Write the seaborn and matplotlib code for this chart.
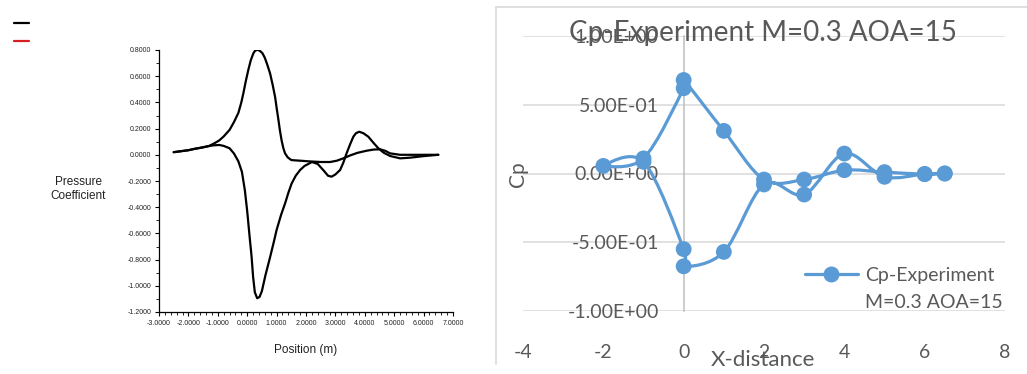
import numpy as np
import pandas as pd
import matplotlib
matplotlib.use("Agg")
import matplotlib.pyplot as plt
import seaborn as sns
from matplotlib.path import Path
from matplotlib.patches import PathPatch
from matplotlib.lines import Line2D
from matplotlib.ticker import MultipleLocator, FuncFormatter, FixedLocator

# ---------------- data: left panel (CFD pressure coefficient) ----------------
cfd_upper_x = [-2.5, -2.0, -1.8, -1.55, -1.3, -1.1, -0.95, -0.8, -0.6, -0.45, -0.3, -0.2,
               -0.13, -0.05, 0.04, 0.12, 0.21, 0.26, 0.32, 0.38, 0.45, 0.52, 0.6, 0.68,
               0.78, 0.87, 0.95, 1.0, 1.06, 1.11, 1.17, 1.23, 1.29, 1.38, 1.5, 1.6,
               1.8, 2.1, 2.5, 2.82, 3.05, 3.27, 3.5, 3.75, 4.06, 4.3, 4.52, 4.7, 4.86,
               5.2, 5.8, 6.5]
cfd_upper_y = [0.02, 0.035, 0.045, 0.055, 0.067, 0.09, 0.11, 0.14, 0.19, 0.25, 0.32, 0.40,
               0.47, 0.56, 0.65, 0.72, 0.775, 0.792, 0.80, 0.80, 0.79, 0.775, 0.74, 0.69,
               0.62, 0.53, 0.44, 0.36, 0.27, 0.19, 0.11, 0.05, 0.01, -0.02, -0.04, -0.042,
               -0.045, -0.05, -0.055, -0.055, -0.045, -0.027, -0.005, 0.015, 0.031, 0.04,
               0.042, 0.03, 0.011, 0.0, 0.0, 0.0]
cfd_lower_x = [-2.5, -2.0, -1.8, -1.55, -1.3, -1.15, -0.95, -0.8, -0.6, -0.45, -0.3, -0.18,
               -0.08, 0.0, 0.08, 0.15, 0.2, 0.26, 0.34, 0.42, 0.5, 0.55, 0.62, 0.7, 0.78,
               0.9, 1.0, 1.15, 1.29, 1.4, 1.51, 1.65, 1.8, 1.95, 2.08, 2.2, 2.4, 2.6,
               2.75, 2.87, 3.0, 3.16, 3.27, 3.38, 3.5, 3.61, 3.7, 3.81, 3.95, 4.12, 4.3,
               4.46, 4.65, 4.86, 5.2, 5.54, 6.0, 6.5]
cfd_lower_y = [0.02, 0.035, 0.045, 0.055, 0.067, 0.072, 0.075, 0.068, 0.05, 0.01, -0.05,
               -0.13, -0.27, -0.43, -0.62, -0.78, -0.93, -1.05, -1.095, -1.085, -1.04,
               -0.99, -0.92, -0.85, -0.78, -0.67, -0.574, -0.46, -0.37, -0.29, -0.22,
               -0.16, -0.116, -0.085, -0.07, -0.055, -0.07, -0.12, -0.16, -0.167, -0.15,
               -0.116, -0.06, 0.011, 0.08, 0.138, 0.165, 0.176, 0.165, 0.138, 0.09, 0.05,
               0.015, -0.009, -0.027, -0.022, -0.01, 0.0]
left_xlim = (-3, 7)
left_ylim = (-1.2, 0.8)

# ---------------- data: right panel (experiment) ----------------
exp_x = [6.5, 6, 5, 4, 3, 2, 1, 0, 0, -1, -2, -1, 0, 0, 1, 2, 3, 4, 5, 6, 6.5]
exp_cp = [0.0, -0.005, 0.01, 0.024, -0.044, -0.044, 0.31, 0.68, 0.62, 0.11, 0.055,
          0.085, -0.55, -0.675, -0.57, -0.08, -0.153, 0.145, -0.024, -0.003, 0.0]
right_xticks = [-4, -2, 0, 2, 4, 6, 8]
right_yticks = [-1.0, -0.5, 0.0, 0.5, 1.0]

title_text = "Cp-Experiment M=0.3 AOA=15"
legend_line1 = "Cp-Experiment"
legend_line2 = "M=0.3 AOA=15"

sns.set_theme(style="white")
plt.rcParams['font.family'] = ['Lato', 'DejaVu Sans']
narrow = ['Liberation Sans', 'DejaVu Sans']

W, H = 1027, 374
fig = plt.figure(figsize=(W / 100, H / 100), dpi=100)
fig.patch.set_facecolor('white')


def px_rect(l, t, r, b):
    return [l / W, 1 - b / H, (r - l) / W, (b - t) / H]


# ---------------- left panel ----------------
axL = fig.add_axes(px_rect(159, 50, 453, 312))
axL.set_facecolor('white')
dfA = pd.DataFrame({'x': cfd_upper_x, 'y': cfd_upper_y})
dfB = pd.DataFrame({'x': cfd_lower_x, 'y': cfd_lower_y})
sns.lineplot(data=dfA, x='x', y='y', sort=False, estimator=None, color='black',
             lw=1.6, ax=axL)
sns.lineplot(data=dfB, x='x', y='y', sort=False, estimator=None, color='black',
             lw=1.6, ax=axL)
for ln in axL.get_lines():
    ln.set_solid_joinstyle('round')
    ln.set_solid_capstyle('round')
axL.set_xlim(*left_xlim)
axL.set_ylim(*left_ylim)
for s in ['top', 'right']:
    axL.spines[s].set_visible(False)
for s in ['left', 'bottom']:
    axL.spines[s].set_color('black')
    axL.spines[s].set_linewidth(0.9)
axL.xaxis.set_major_locator(MultipleLocator(1.0))
axL.xaxis.set_minor_locator(MultipleLocator(0.2))
axL.yaxis.set_major_locator(MultipleLocator(0.2))
axL.yaxis.set_minor_locator(MultipleLocator(0.1))
fmt4 = FuncFormatter(lambda v, p: f"{round(v, 4) + 0.0:.4f}")
axL.xaxis.set_major_formatter(fmt4)
axL.yaxis.set_major_formatter(fmt4)
axL.tick_params(axis='both', which='major', direction='out', length=3, width=0.8,
                color='black', labelsize=5, labelcolor='#222222', pad=2.5,
                bottom=True, left=True)
axL.tick_params(axis='both', which='minor', direction='out', length=2, width=0.6,
                color='black', bottom=True, left=True)
for lab in axL.get_xticklabels() + axL.get_yticklabels():
    lab.set_family(narrow)
axL.set_xlabel('')
axL.set_ylabel('')
fig.text(78 / W, 1 - 189 / H, "Pressure\nCoefficient", ha='center', va='center',
         fontsize=8.5, color='#222222', family=narrow, linespacing=1.15)
fig.text(306 / W, 1 - 350 / H, "Position (m)", ha='center', va='center',
         fontsize=8.5, color='#222222', family=narrow)
# legend swatches (no labels)
fig.add_artist(Line2D([14 / W, 29 / W], [1 - 23 / H, 1 - 23 / H], color='black',
                      lw=1.6, transform=fig.transFigure))
fig.add_artist(Line2D([14 / W, 29 / W], [1 - 40.5 / H, 1 - 40.5 / H], color='#d42020',
                      lw=1.6, transform=fig.transFigure))

# ---------------- right panel ----------------
blue = '#5B9BD5'
grey_txt = '#595959'
# chart area border
fig.add_artist(Line2D([496 / W, 496 / W], [1 - 7 / H, 1 - 364 / H], color='#d9d9d9',
                      lw=1.2, transform=fig.transFigure))
fig.add_artist(Line2D([496 / W, 1.0], [1 - 7 / H, 1 - 7 / H], color='#d9d9d9',
                      lw=1.2, transform=fig.transFigure))

axR = fig.add_axes(px_rect(523, 36, 1005, 311))
axR.set_facecolor('none')
axR.set_xlim(-4, 8)
axR.set_ylim(-1, 1)
axR.yaxis.set_major_locator(FixedLocator(right_yticks))
axR.xaxis.set_major_locator(FixedLocator(right_xticks))
axR.yaxis.set_major_formatter(FuncFormatter(lambda v, p: f"{v + 0.0:.2E}"))
axR.xaxis.set_major_formatter(FuncFormatter(lambda v, p: f"{int(round(v))}"))
axR.grid(False)
axR.yaxis.grid(True, color='#d9d9d9', lw=1.1)
axR.set_axisbelow(True)
for s in ['top', 'right', 'bottom']:
    axR.spines[s].set_visible(False)
axR.spines['left'].set_position(('data', 0))
axR.spines['left'].set_color('#bfbfbf')
axR.spines['left'].set_linewidth(1.1)
axR.tick_params(axis='y', length=0, pad=18, labelsize=14, labelcolor=grey_txt)
axR.tick_params(axis='x', length=0, pad=24, labelsize=14, labelcolor=grey_txt)


def smooth_path(xs, ys):
    pts = np.column_stack([xs, ys]).astype(float)
    n = len(pts)
    verts = [pts[0]]
    codes = [Path.MOVETO]
    for i in range(n - 1):
        p0 = pts[i - 1] if i > 0 else pts[i]
        p1 = pts[i]
        p2 = pts[i + 1]
        p3 = pts[i + 2] if i + 2 < n else pts[i + 1]
        c1 = p1 + (p2 - p0) / 6.0
        c2 = p2 - (p3 - p1) / 6.0
        verts += [c1, c2, p2]
        codes += [Path.CURVE4] * 3
    return Path(verts, codes)


axR.add_patch(PathPatch(smooth_path(exp_x, exp_cp), facecolor='none', edgecolor=blue,
                        lw=2.3, capstyle='round', joinstyle='round', zorder=3))
dfE = pd.DataFrame({'x': exp_x, 'cp': exp_cp})
sns.scatterplot(data=dfE, x='x', y='cp', color=blue, s=130, edgecolor='none',
                linewidth=0, zorder=4, ax=axR, legend=False)
axR.set_xlabel('')
axR.set_ylabel('')

fig.text(763 / W, 1 - 33 / H, title_text, ha='center', va='center', fontsize=20,
         color=grey_txt)
fig.text(518 / W, 1 - 174 / H, "Cp", ha='center', va='center', rotation=90,
         fontsize=15, color=grey_txt)
fig.text(763 / W, 1 - 360 / H, "X-distance", ha='center', va='center', fontsize=16,
         color=grey_txt)

handle = Line2D([], [], color=blue, lw=2.3, marker='o', markersize=11.5,
                markeredgewidth=0)
leg = axR.legend([handle], [legend_line1], loc='center left',
                 bbox_to_anchor=(805 / W, 1 - 275 / H), bbox_transform=fig.transFigure,
                 frameon=False, fontsize=14, handlelength=2.7, handletextpad=0.4,
                 borderpad=0, borderaxespad=0)
for t in leg.get_texts():
    t.set_color(grey_txt)
fig.text(865 / W, 1 - 303 / H, legend_line2, ha='left', va='center', fontsize=14,
         color=grey_txt)

fig.savefig('out.png', dpi=100, facecolor='white')
